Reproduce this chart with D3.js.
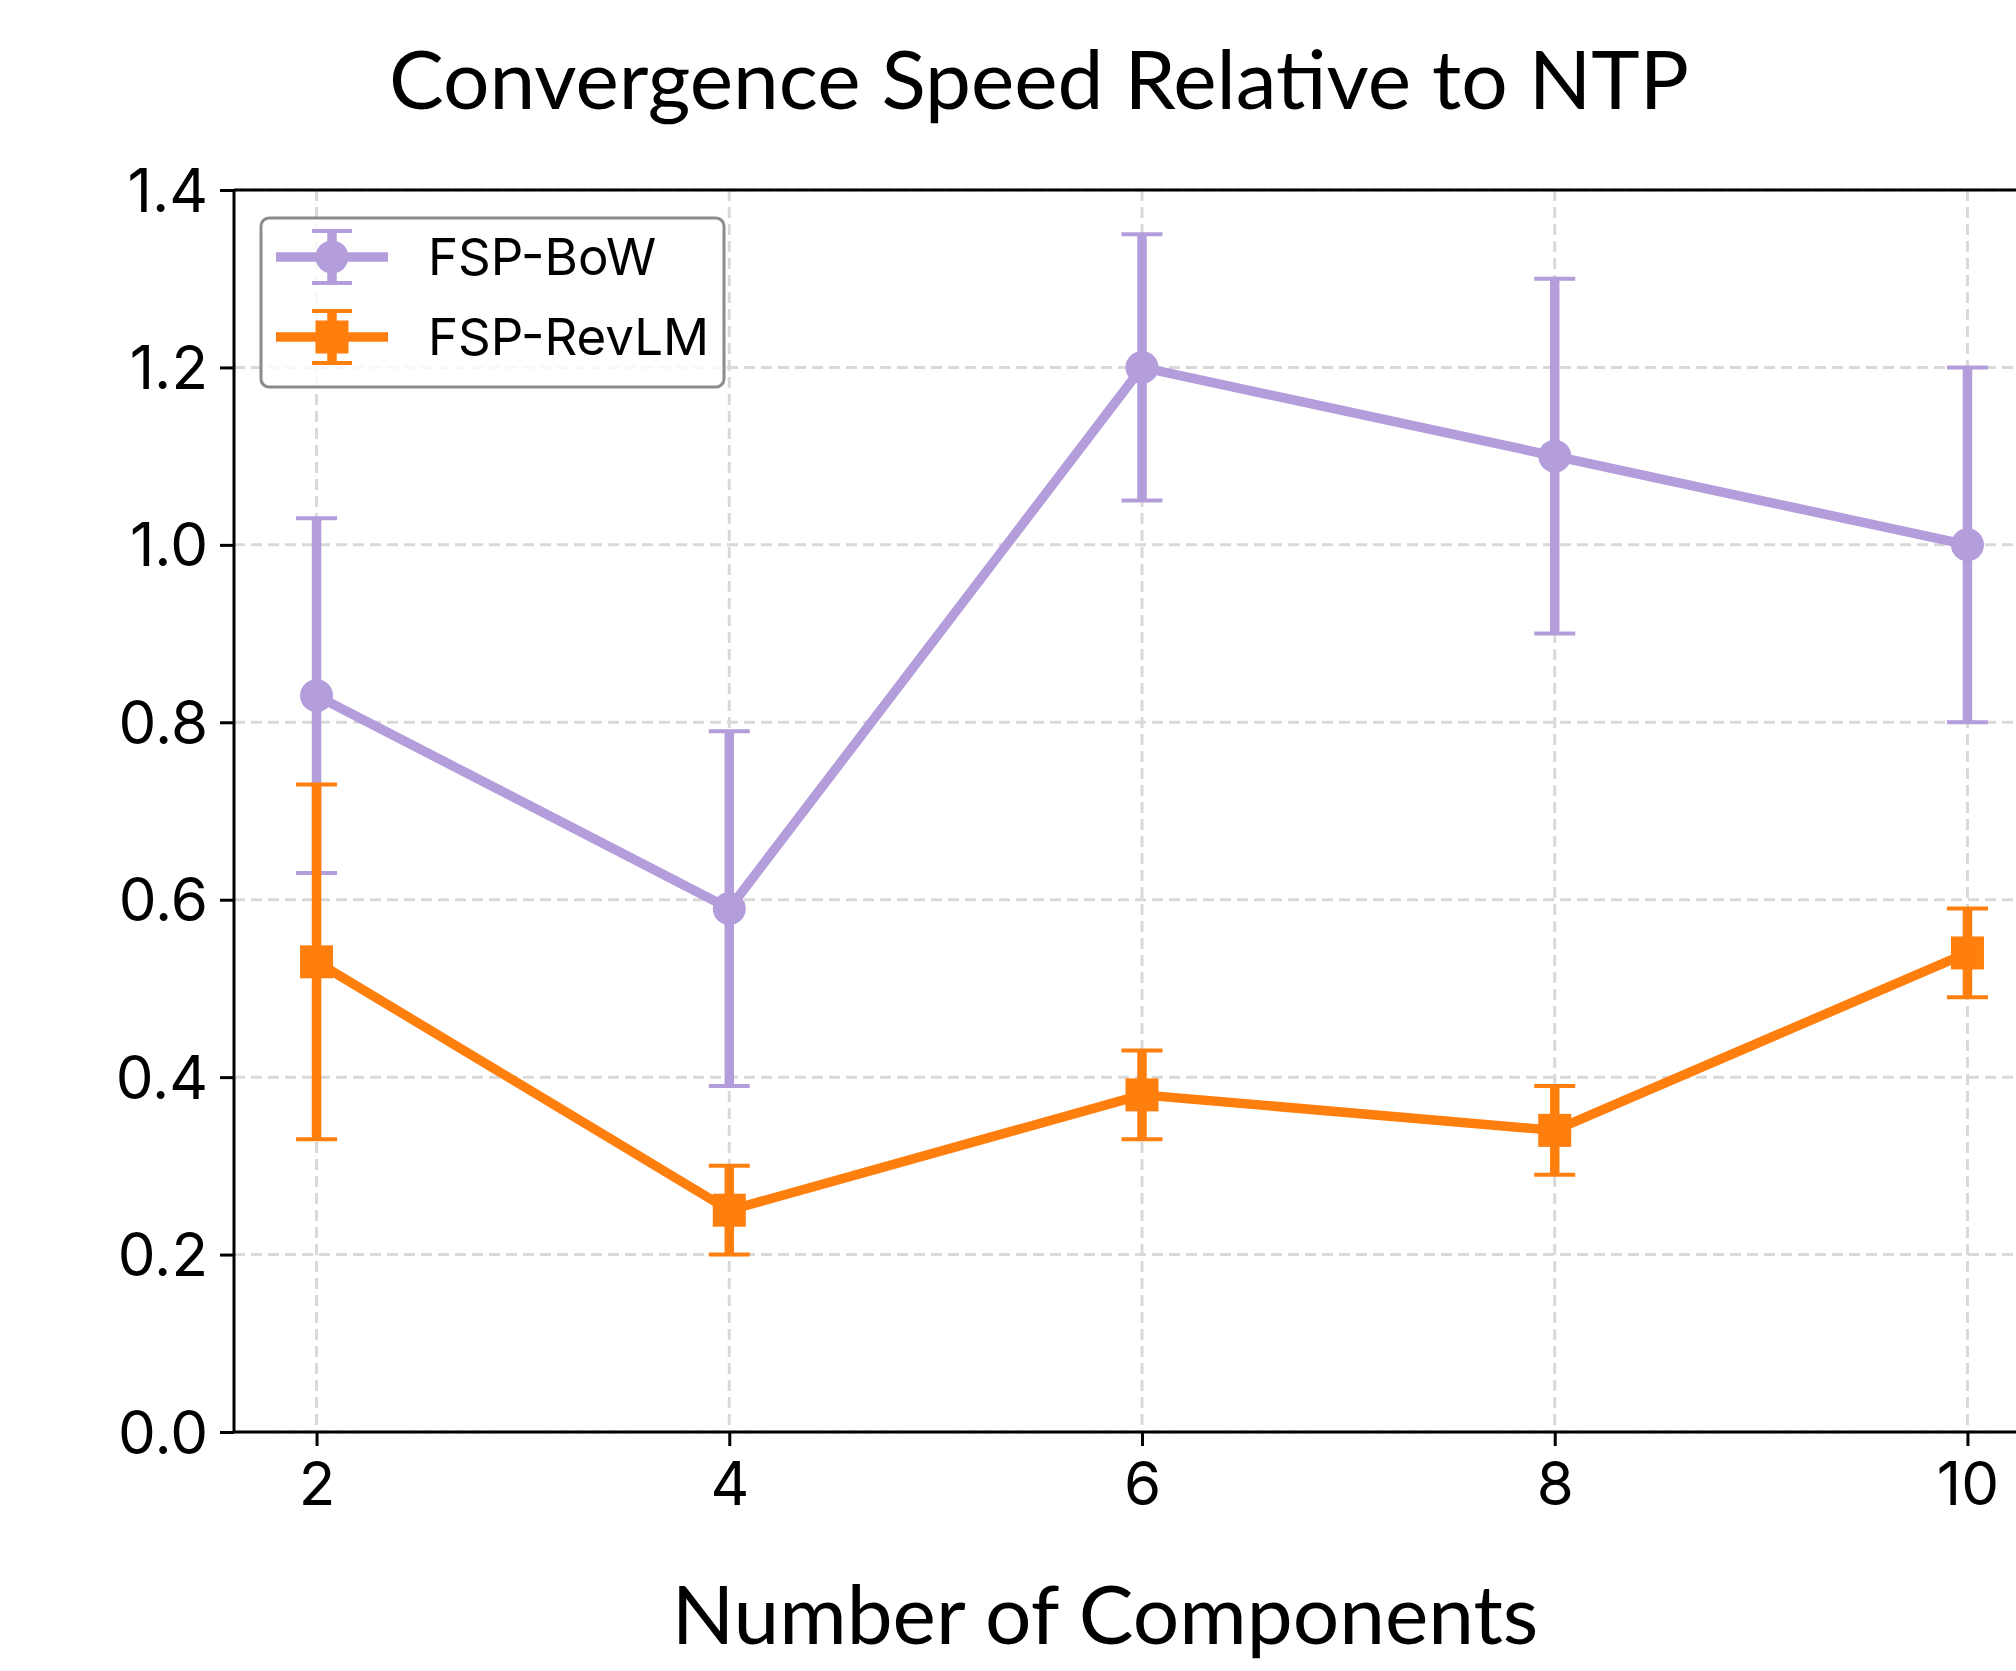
<!DOCTYPE html>
<html>
<head>
<meta charset="utf-8">
<script src="https://cdn.jsdelivr.net/npm/d3@7"></script>
<style>
  body { margin: 0; background: #fff; }
  svg { display: block; }
</style>
</head>
<body>
<svg width="2016" height="1671"></svg>
<script>
// chart data
var components = [2, 4, 6, 8, 10]
var bowMean = [0.83, 0.59, 1.20, 1.10, 1.00]
var bowErr = [0.20, 0.20, 0.15, 0.20, 0.20]
var revMean = [0.53, 0.25, 0.38, 0.34, 0.54]
var revErr = [0.20, 0.05, 0.05, 0.05, 0.05]
var xTicks = [2, 4, 6, 8, 10]
var yTicks = [0.0, 0.2, 0.4, 0.6, 0.8, 1.0, 1.2, 1.4]

var svg = d3.select("svg")

// axes box (right side runs off the canvas, like the reference)
var plotLeft = 234, plotRight = 2050, plotTop = 190, plotBottom = 1432

var x = d3.scaleLinear().domain([1.6, 10.4]).range([plotLeft, plotRight])
var y = d3.scaleLinear().domain([0, 1.4]).range([plotBottom, plotTop])

var tickFont = "Inter, 'Noto Sans', sans-serif"
var titleFont = "Lato, 'Open Sans', sans-serif"

// grid
var grid = svg.append("g")
grid.selectAll(".gx").data(xTicks).enter().append("line")
  .attr("x1", d => x(d)).attr("x2", d => x(d))
  .attr("y1", plotTop).attr("y2", plotBottom)
grid.selectAll(".gy").data(yTicks).enter().append("line")
  .attr("x1", plotLeft).attr("x2", plotRight)
  .attr("y1", d => y(d)).attr("y2", d => y(d))
grid.selectAll("line")
  .attr("stroke", "#d9d9d9").attr("stroke-width", 3)
  .attr("stroke-dasharray", "11,6")

// axes
var xAxis = svg.append("g")
  .attr("transform", "translate(0," + plotBottom + ")")
  .call(d3.axisBottom(x).tickValues(xTicks).tickFormat(d3.format("d")).tickSize(14).tickPadding(12))
var yAxis = svg.append("g")
  .attr("transform", "translate(" + plotLeft + ",0)")
  .call(d3.axisLeft(y).tickValues(yTicks).tickFormat(d3.format(".1f")).tickSize(14).tickPadding(12))

svg.selectAll(".domain").remove()
svg.selectAll(".tick line").attr("stroke", "#000").attr("stroke-width", 3)
svg.selectAll(".tick text")
  .attr("fill", "#000")
  .style("font-family", tickFont)
  .style("font-size", "60px")
xAxis.selectAll(".tick text").attr("dy", "0.78em")
yAxis.selectAll(".tick text").attr("dy", "0.35em")

// spines (left, top and bottom; right one falls outside)
svg.append("line").attr("x1", plotLeft).attr("x2", plotLeft).attr("y1", plotTop).attr("y2", plotBottom)
  .attr("stroke", "#000").attr("stroke-width", 3)
svg.append("line").attr("x1", plotLeft).attr("x2", plotRight).attr("y1", plotTop).attr("y2", plotTop)
  .attr("stroke", "#000").attr("stroke-width", 3)
svg.append("line").attr("x1", plotLeft).attr("x2", plotRight).attr("y1", plotBottom).attr("y2", plotBottom)
  .attr("stroke", "#000").attr("stroke-width", 3)

var series = [
  { name: "FSP-BoW", color: "#b39ddb", mean: bowMean, err: bowErr, marker: "circle" },
  { name: "FSP-RevLM", color: "#ff7f0e", mean: revMean, err: revErr, marker: "square" }
]

var line = d3.line().x(d => x(d.x)).y(d => y(d.y))
var lw = 9.5, capW = 41, mSize = 33

series.forEach(function(s) {
  var pts = components.map((c, i) => ({ x: c, y: s.mean[i], e: s.err[i] }))
  var g = svg.append("g")

  // error bars
  pts.forEach(function(p) {
    g.append("line")
      .attr("x1", x(p.x)).attr("x2", x(p.x))
      .attr("y1", y(p.y - p.e)).attr("y2", y(p.y + p.e))
      .attr("stroke", s.color).attr("stroke-width", lw)
    ;[p.y - p.e, p.y + p.e].forEach(function(v) {
      g.append("line")
        .attr("x1", x(p.x) - capW / 2).attr("x2", x(p.x) + capW / 2)
        .attr("y1", y(v)).attr("y2", y(v))
        .attr("stroke", s.color).attr("stroke-width", 4)
    })
  })

  g.append("path").datum(pts)
    .attr("d", line)
    .attr("fill", "none")
    .attr("stroke", s.color)
    .attr("stroke-width", lw)
    .attr("stroke-linejoin", "round")

  pts.forEach(function(p) {
    if (s.marker == "circle") {
      g.append("circle").attr("cx", x(p.x)).attr("cy", y(p.y)).attr("r", mSize / 2).attr("fill", s.color)
    } else {
      g.append("rect").attr("x", x(p.x) - mSize / 2).attr("y", y(p.y) - mSize / 2)
        .attr("width", mSize).attr("height", mSize).attr("fill", s.color)
    }
  })
})

// legend
var leg = svg.append("g")
leg.append("rect")
  .attr("x", 261).attr("y", 218).attr("width", 463).attr("height", 169)
  .attr("rx", 8).attr("fill", "#fff").attr("fill-opacity", 0.8)
  .attr("stroke", "#8c8c8c").attr("stroke-width", 3)

series.forEach(function(s, i) {
  var cy = 257 + i * 80, cx = 332
  var r = leg.append("g")
  r.append("line").attr("x1", 276).attr("x2", 388).attr("y1", cy).attr("y2", cy)
    .attr("stroke", s.color).attr("stroke-width", lw)
  r.append("line").attr("x1", cx).attr("x2", cx).attr("y1", cy - 26).attr("y2", cy + 26)
    .attr("stroke", s.color).attr("stroke-width", lw)
  ;[cy - 26, cy + 26].forEach(function(v) {
    r.append("line").attr("x1", cx - 20).attr("x2", cx + 20).attr("y1", v).attr("y2", v)
      .attr("stroke", s.color).attr("stroke-width", 4)
  })
  if (s.marker == "circle") {
    r.append("circle").attr("cx", cx).attr("cy", cy).attr("r", mSize / 2).attr("fill", s.color)
  } else {
    r.append("rect").attr("x", cx - mSize / 2).attr("y", cy - mSize / 2)
      .attr("width", mSize).attr("height", mSize).attr("fill", s.color)
  }
  r.append("text").attr("x", 428).attr("y", cy).attr("dy", "0.35em")
    .style("font-family", tickFont).style("font-size", "51px")
    .text(s.name)
})

// titles
svg.append("text")
  .attr("x", 1039).attr("y", 109)
  .attr("text-anchor", "middle")
  .style("font-family", titleFont).style("font-size", "82px")
  .text("Convergence Speed Relative to NTP")

svg.append("text")
  .attr("x", 1105).attr("y", 1644)
  .attr("text-anchor", "middle")
  .style("font-family", titleFont).style("font-size", "82px")
  .text("Number of Components")
</script>
</body>
</html>
